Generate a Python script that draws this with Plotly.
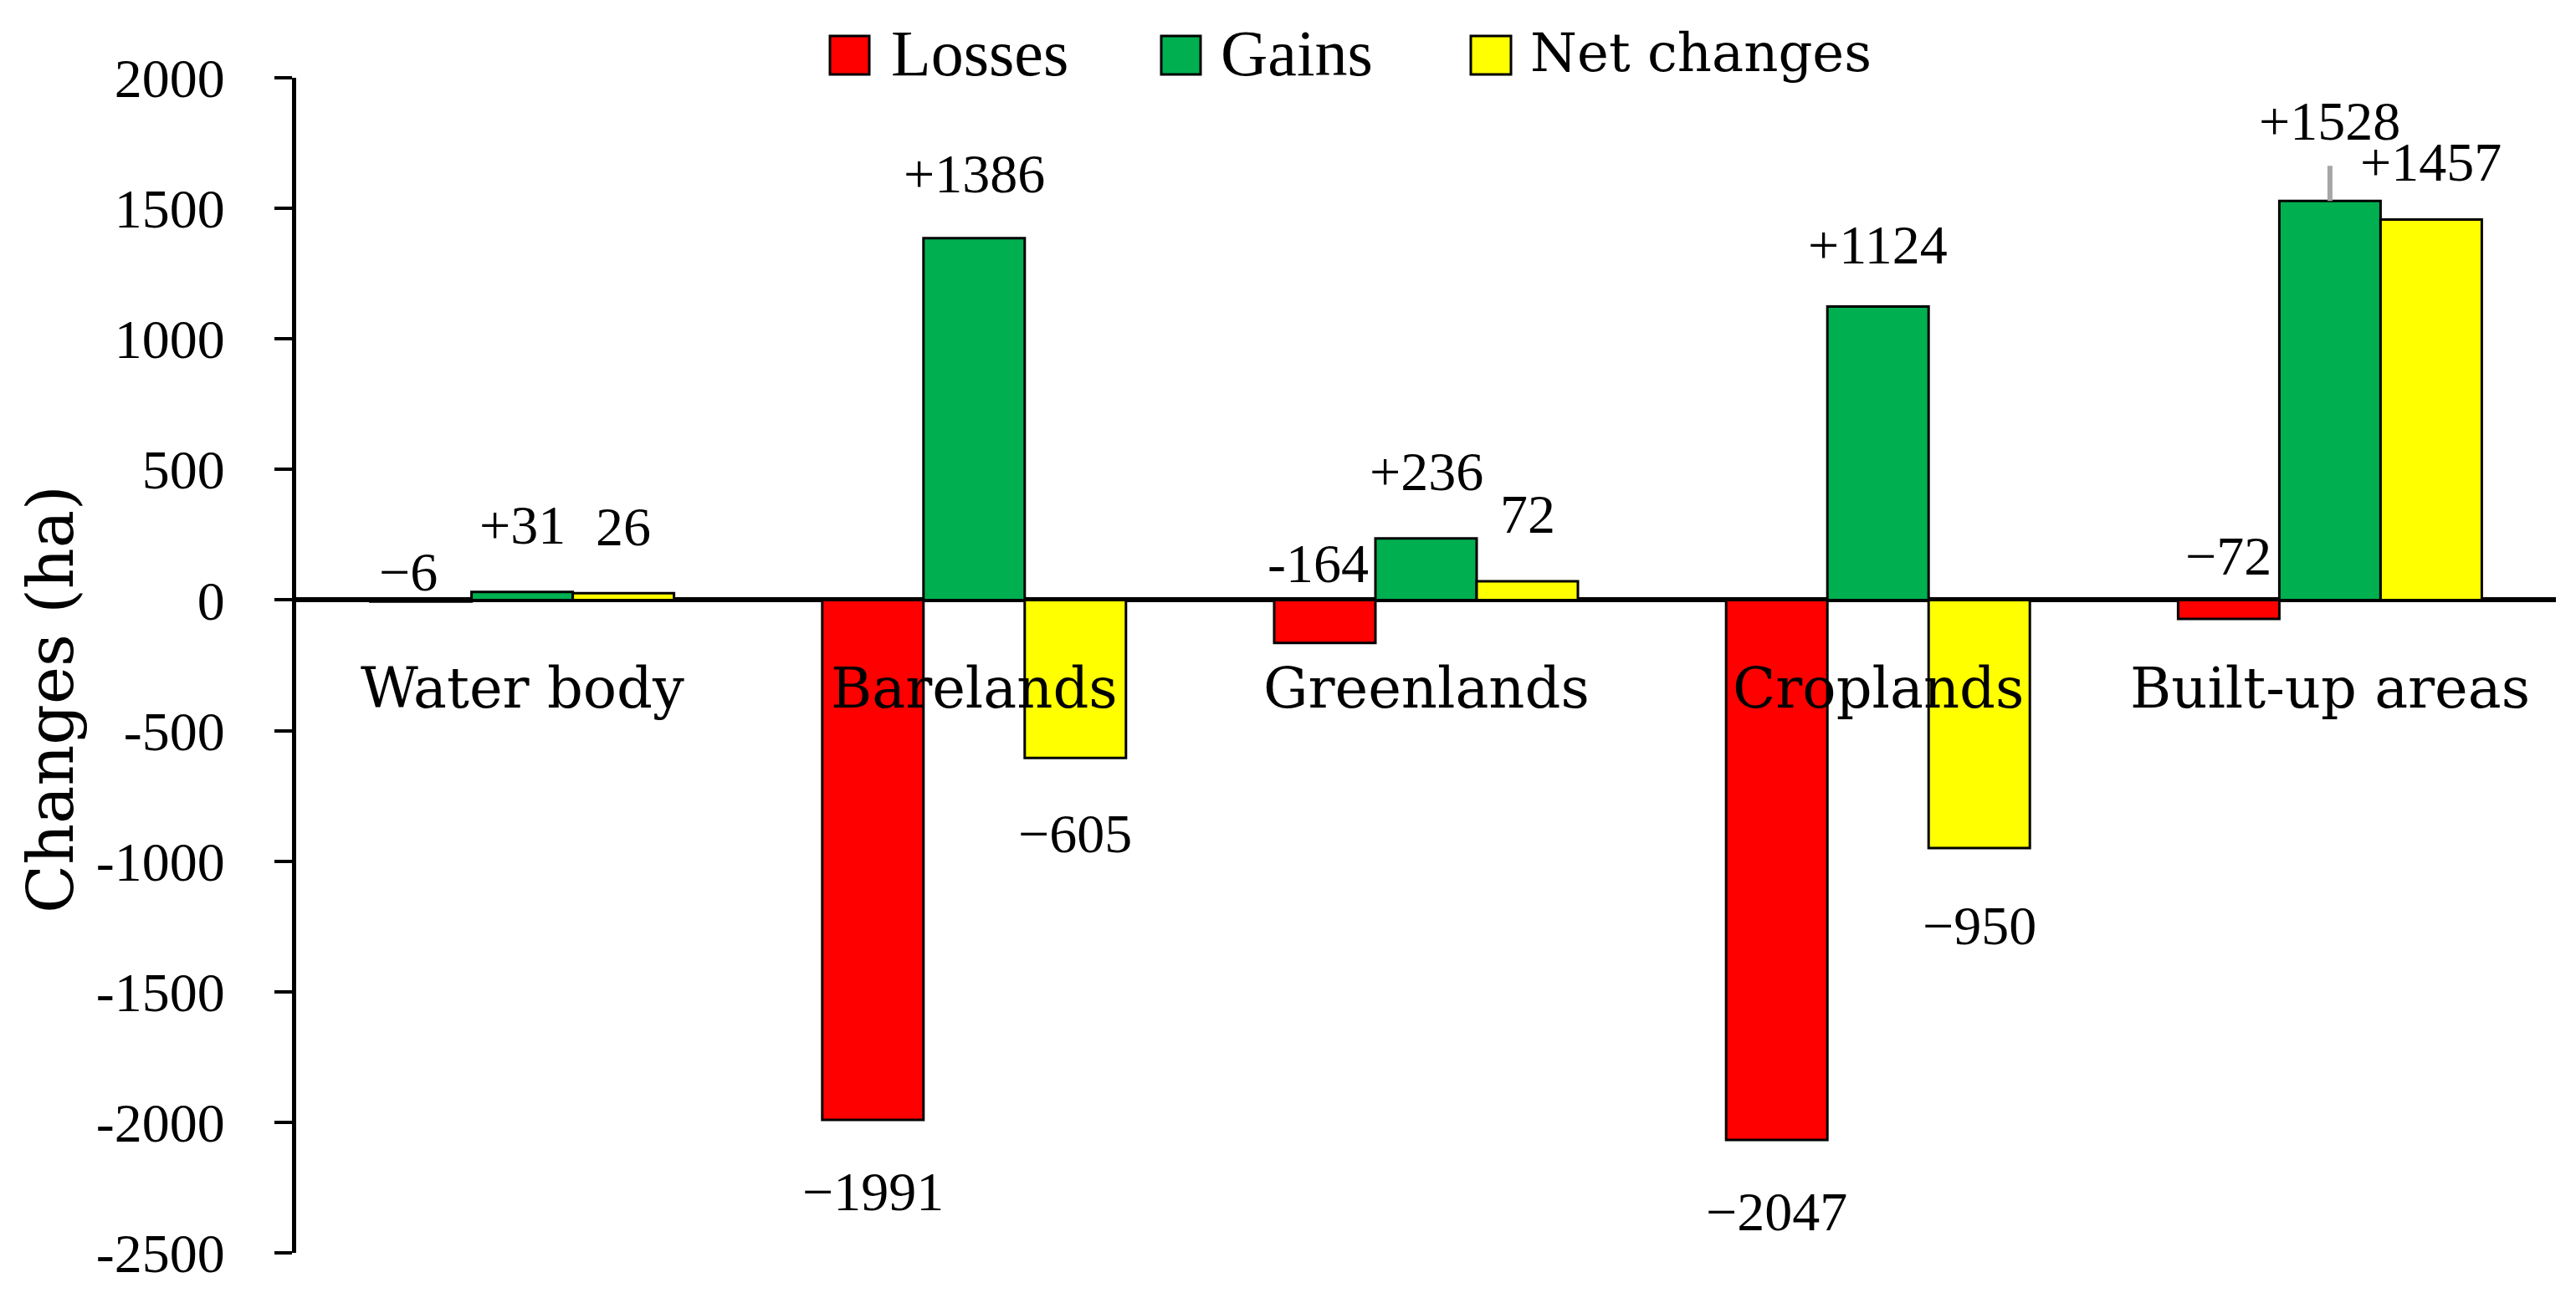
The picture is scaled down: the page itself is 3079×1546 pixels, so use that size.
import plotly.graph_objects as go

# ---------------- data ----------------
categories = ["Water body", "Barelands", "Greenlands", "Croplands", "Built-up areas"]
losses = [-6, -1991, -164, -2068, -72]
gains = [31, 1386, 236, 1124, 1528]
net_changes = [26, -605, 72, -950, 1457]
loss_labels = ["\u22126", "\u22121991", "-164", "\u22122047", "\u221272"]
gain_labels = ["+31", "+1386", "+236", "+1124", "+1528"]
net_labels = ["26", "\u2212605", "72", "\u2212950", "+1457"]
series_names = ["Losses", "Gains", "Net changes"]
y_tick_vals = [2000, 1500, 1000, 500, 0, -500, -1000, -1500, -2000, -2500]
y_tick_text = ["2000", "1500", "1000", "500", "0", "-500", "-1000", "-1500", "-2000", "-2500"]
y_title = "Changes (ha)"

# ---------------- style ----------------
colors = ["#FF0000", "#00B050", "#FFFF00"]
NUM_FONT = "Liberation Serif"
TXT_FONT = "DejaVu Serif"
FIG_W, FIG_H = 3079, 1546
L, R, T, B = 354, 3055, 93, 1498
PW, PH = R - L, B - T
BAR_PX = 121


def px_x(p):
    return (p - L) / PW


def px_y(p):
    return (B - p) / PH


fig = go.Figure()
values = [losses, gains, net_changes]
for i, name in enumerate(series_names):
    fig.add_trace(go.Bar(
        x=categories, y=values[i], name=name,
        marker=dict(color=colors[i], line=dict(color="black", width=3)),
        showlegend=False,
    ))

annotations = []
labels = [loss_labels, gain_labels, net_labels]
# placement overrides: (series, category) -> (anchor_at_zero, dy px, dx px)
overrides = {
    (0, 0): (True, 34, -15),
    (0, 2): (True, 44, -8),
    (0, 4): (True, 53, 0),
    (1, 1): (False, 77, 0),
    (1, 3): (False, 74, 0),
    (2, 1): (False, -90, 0),
    (2, 3): (False, -92, 0),
    (2, 4): (False, 69, 0),
}
for si in range(3):
    for ci, cat in enumerate(categories):
        v = values[si][ci]
        txt = labels[si][ci]
        if (si, ci) == (1, 4):
            annotations.append(dict(
                x=cat, y=v, xref="x", yref="y", text=txt, showarrow=True,
                ax=0, ay=-96, arrowhead=0, arrowwidth=6, arrowcolor="#A6A6A6",
                standoff=0, startstandoff=16,
                font=dict(family=NUM_FONT, size=66, color="black"),
            ))
            continue
        if (si, ci) in overrides:
            zero, dy, dx = overrides[(si, ci)]
        else:
            zero, dy, dx = False, (80 if v >= 0 else -85), 0
        annotations.append(dict(
            x=cat, y=0 if zero else v, xref="x", yref="y", text=txt,
            showarrow=False, xanchor="center", yanchor="middle",
            xshift=(si - 1) * BAR_PX + dx, yshift=dy,
            font=dict(family=NUM_FONT, size=66, color="black"),
        ))

# category labels below the zero line
for cat in categories:
    annotations.append(dict(
        x=cat, y=0, xref="x", yref="y", text=cat, showarrow=False,
        xanchor="center", yanchor="middle", yshift=-106,
        font=dict(family=TXT_FONT, size=67, color="black"),
    ))

# y-axis title
annotations.append(dict(
    x=px_x(60), y=px_y(836), xref="paper", yref="paper", text=y_title,
    textangle=-90, showarrow=False, xanchor="center", yanchor="middle",
    font=dict(family=TXT_FONT, size=76, color="black"),
))

# custom legend
shapes = []
leg_sq = [(992, 1039), (1388, 1435), (1758, 1806)]
leg_tx = [1063, 1457, 1827]
leg_fonts = [(NUM_FONT, 78), (NUM_FONT, 78), (TXT_FONT, 64)]
for i, name in enumerate(series_names):
    x0, x1 = leg_sq[i]
    shapes.append(dict(
        type="rect", xref="paper", yref="paper",
        x0=px_x(x0), x1=px_x(x1), y0=px_y(89), y1=px_y(43),
        fillcolor=colors[i], line=dict(color="black", width=3),
    ))
    annotations.append(dict(
        x=px_x(leg_tx[i]), y=px_y(63), xref="paper", yref="paper", text=name,
        showarrow=False, xanchor="left", yanchor="middle",
        font=dict(family=leg_fonts[i][0], size=leg_fonts[i][1], color="black"),
    ))

fig.update_layout(
    width=FIG_W, height=FIG_H,
    margin=dict(l=L, r=FIG_W - R, t=T, b=FIG_H - B, pad=0),
    paper_bgcolor="white", plot_bgcolor="white",
    barmode="group", bargap=0.328, bargroupgap=0,
    showlegend=False,
    annotations=annotations, shapes=shapes,
    xaxis=dict(visible=False, range=[-0.5, 4.5]),
    yaxis=dict(
        range=[-2500, 2000], tickvals=y_tick_vals, ticktext=y_tick_text,
        showgrid=False, showline=True, linecolor="black", linewidth=5,
        ticks="outside", ticklen=21, tickwidth=4, tickcolor="black",
        ticklabelstandoff=46,
        tickfont=dict(family=NUM_FONT, size=66, color="black"),
        zeroline=True, zerolinecolor="black", zerolinewidth=6,
    ),
)

fig.write_html("out.html", config={"displayModeBar": False},
               post_script="document.body.style.margin='0';")
